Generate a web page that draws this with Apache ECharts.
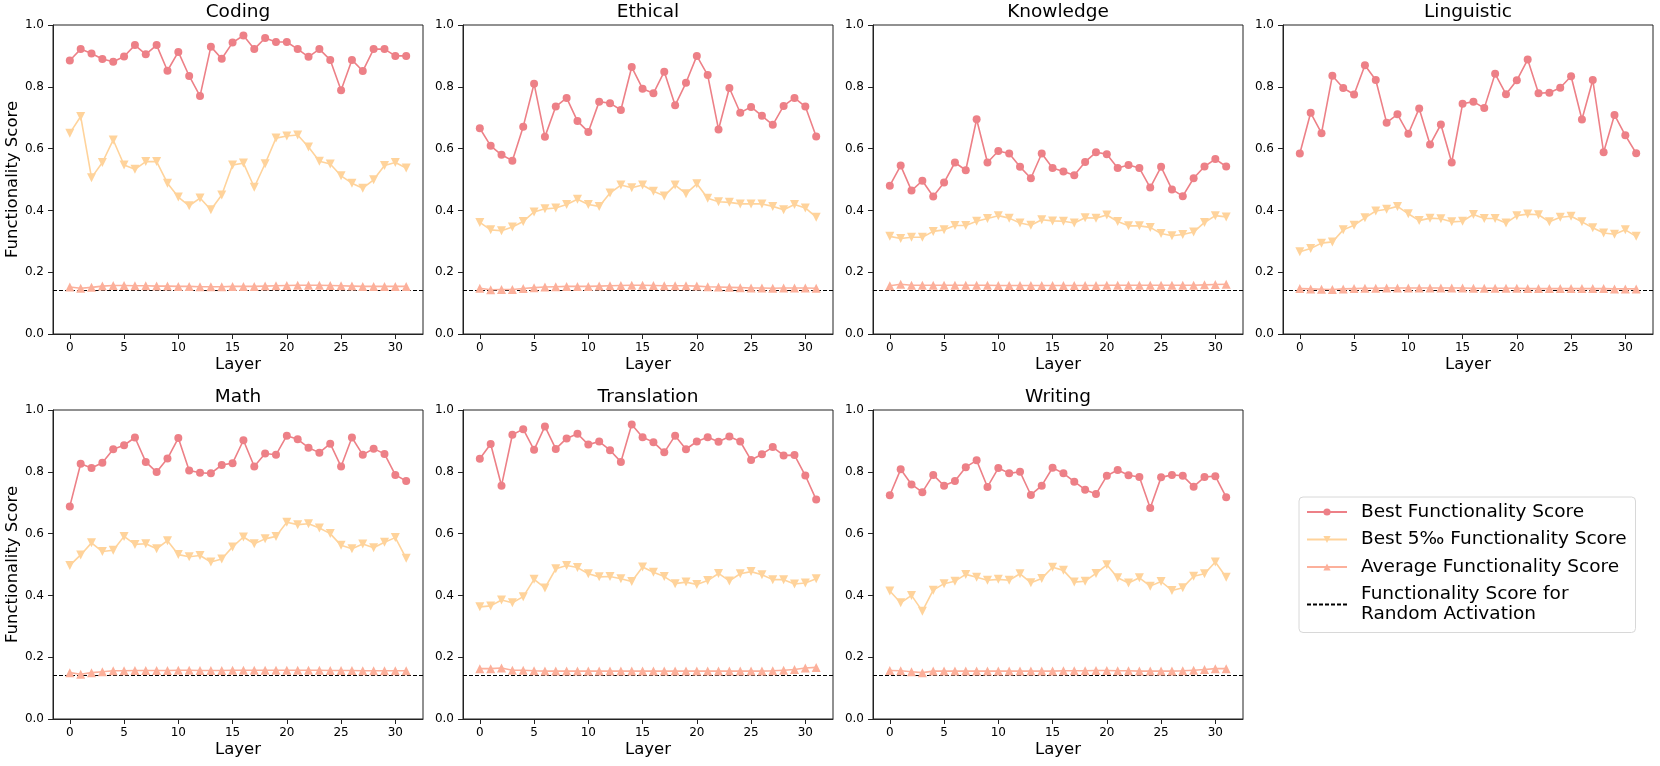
<!DOCTYPE html>
<html><head><meta charset="utf-8">
<script src="https://cdn.jsdelivr.net/npm/echarts@6/dist/echarts.min.js"></script>
<style>html,body{margin:0;padding:0;background:#fff}#c{width:1660px;height:766px}</style>
</head><body><div id="c"></div>
<script>
const categories = ['Coding','Ethical','Knowledge','Linguistic','Math','Translation','Writing'];
const layers = [0,1,2,3,4,5,6,7,8,9,10,11,12,13,14,15,16,17,18,19,20,21,22,23,24,25,26,27,28,29,30,31];
const xTickLabels = [0,5,10,15,20,25,30];
const seriesNames = ['Best Functionality Score','Best 5\u2030 Functionality Score','Average Functionality Score','Functionality Score for Random Activation'];
const randomScore = 0.143;

const bestCoding = [0.885,0.922,0.908,0.890,0.881,0.898,0.935,0.905,0.935,0.852,0.913,0.835,0.770,0.930,0.891,0.943,0.966,0.922,0.958,0.945,0.945,0.922,0.897,0.922,0.887,0.789,0.887,0.851,0.922,0.922,0.900,0.900];
const top5Coding = [0.650,0.704,0.506,0.555,0.628,0.547,0.533,0.558,0.558,0.488,0.443,0.415,0.440,0.402,0.450,0.547,0.553,0.475,0.551,0.634,0.641,0.644,0.605,0.559,0.550,0.512,0.488,0.472,0.499,0.545,0.555,0.537];
const avgCoding = [0.152,0.148,0.151,0.155,0.157,0.157,0.156,0.156,0.155,0.155,0.154,0.154,0.153,0.153,0.153,0.154,0.154,0.154,0.155,0.156,0.157,0.158,0.158,0.158,0.157,0.156,0.155,0.154,0.154,0.154,0.154,0.154];

const bestEthical = [0.666,0.609,0.580,0.561,0.671,0.810,0.638,0.736,0.764,0.689,0.654,0.752,0.747,0.725,0.864,0.794,0.779,0.849,0.740,0.813,0.900,0.838,0.662,0.796,0.716,0.735,0.706,0.677,0.738,0.764,0.736,0.639];
const top5Ethical = [0.361,0.337,0.334,0.346,0.364,0.395,0.405,0.408,0.419,0.436,0.419,0.413,0.456,0.482,0.473,0.482,0.462,0.447,0.482,0.454,0.486,0.439,0.428,0.426,0.421,0.421,0.421,0.413,0.402,0.419,0.408,0.378];
const avgEthical = [0.148,0.143,0.144,0.144,0.147,0.150,0.152,0.153,0.154,0.154,0.154,0.155,0.156,0.157,0.158,0.158,0.157,0.156,0.156,0.156,0.155,0.153,0.152,0.151,0.150,0.149,0.149,0.148,0.149,0.149,0.149,0.148];

const bestKnowledge = [0.480,0.545,0.464,0.496,0.445,0.490,0.555,0.530,0.695,0.555,0.592,0.584,0.541,0.504,0.584,0.537,0.526,0.514,0.557,0.588,0.582,0.537,0.547,0.537,0.474,0.541,0.468,0.446,0.504,0.542,0.566,0.542];
const top5Knowledge = [0.316,0.309,0.313,0.313,0.332,0.337,0.351,0.351,0.365,0.374,0.383,0.375,0.359,0.352,0.370,0.366,0.365,0.359,0.376,0.375,0.385,0.364,0.350,0.350,0.345,0.325,0.318,0.322,0.330,0.361,0.383,0.379];
const avgKnowledge = [0.156,0.161,0.158,0.158,0.158,0.158,0.158,0.158,0.158,0.158,0.157,0.157,0.157,0.157,0.157,0.157,0.157,0.157,0.157,0.157,0.158,0.158,0.158,0.158,0.158,0.158,0.158,0.158,0.158,0.159,0.160,0.161];

const bestLinguistic = [0.584,0.716,0.650,0.836,0.796,0.775,0.870,0.822,0.684,0.711,0.648,0.730,0.613,0.678,0.555,0.745,0.752,0.731,0.842,0.776,0.821,0.888,0.779,0.781,0.797,0.834,0.694,0.822,0.588,0.709,0.643,0.585];
const top5Linguistic = [0.266,0.277,0.294,0.298,0.337,0.352,0.376,0.398,0.404,0.413,0.389,0.367,0.375,0.373,0.363,0.365,0.387,0.374,0.374,0.359,0.383,0.388,0.386,0.363,0.378,0.381,0.363,0.344,0.327,0.323,0.337,0.316];
const avgLinguistic = [0.147,0.146,0.145,0.144,0.146,0.147,0.148,0.148,0.149,0.149,0.149,0.149,0.149,0.149,0.149,0.149,0.148,0.148,0.148,0.148,0.148,0.147,0.147,0.147,0.147,0.147,0.147,0.147,0.147,0.146,0.146,0.146];

const bestMath = [0.688,0.826,0.812,0.829,0.873,0.886,0.911,0.832,0.799,0.843,0.909,0.804,0.797,0.795,0.822,0.828,0.902,0.817,0.859,0.855,0.917,0.905,0.878,0.862,0.891,0.817,0.911,0.855,0.875,0.858,0.790,0.770];
const top5Math = [0.497,0.531,0.570,0.542,0.546,0.591,0.565,0.567,0.551,0.577,0.532,0.525,0.529,0.508,0.518,0.557,0.589,0.567,0.583,0.591,0.637,0.629,0.632,0.618,0.600,0.562,0.551,0.566,0.554,0.572,0.587,0.520];
const avgMath = [0.150,0.145,0.150,0.153,0.156,0.156,0.157,0.157,0.157,0.157,0.158,0.158,0.157,0.157,0.157,0.158,0.158,0.158,0.158,0.158,0.158,0.158,0.158,0.158,0.157,0.157,0.157,0.156,0.156,0.156,0.156,0.156];

const bestTranslation = [0.842,0.890,0.755,0.920,0.938,0.871,0.947,0.874,0.908,0.923,0.888,0.898,0.870,0.832,0.953,0.912,0.896,0.863,0.917,0.873,0.898,0.912,0.897,0.914,0.898,0.838,0.857,0.880,0.853,0.854,0.788,0.710];
const top5Translation = [0.363,0.366,0.385,0.376,0.396,0.452,0.424,0.486,0.497,0.490,0.470,0.460,0.461,0.454,0.445,0.492,0.475,0.461,0.438,0.443,0.435,0.448,0.471,0.447,0.470,0.477,0.467,0.451,0.451,0.437,0.440,0.454];
const avgTranslation = [0.163,0.163,0.165,0.158,0.158,0.156,0.155,0.155,0.155,0.155,0.155,0.155,0.155,0.155,0.155,0.155,0.155,0.155,0.155,0.155,0.155,0.155,0.155,0.155,0.155,0.155,0.155,0.156,0.158,0.160,0.165,0.167];

const bestWriting = [0.724,0.808,0.759,0.734,0.790,0.755,0.770,0.815,0.837,0.751,0.812,0.795,0.800,0.725,0.755,0.813,0.795,0.768,0.742,0.728,0.787,0.806,0.789,0.783,0.683,0.782,0.790,0.787,0.752,0.783,0.786,0.718];
const top5Writing = [0.414,0.376,0.400,0.349,0.417,0.438,0.446,0.468,0.459,0.449,0.452,0.449,0.470,0.441,0.455,0.491,0.481,0.443,0.446,0.471,0.499,0.457,0.440,0.457,0.430,0.445,0.416,0.425,0.462,0.470,0.508,0.459];
const avgWriting = [0.157,0.156,0.153,0.150,0.155,0.155,0.155,0.155,0.155,0.155,0.155,0.155,0.155,0.155,0.155,0.155,0.156,0.156,0.156,0.157,0.157,0.156,0.156,0.155,0.155,0.155,0.155,0.156,0.158,0.160,0.163,0.163];

const bestAll = [bestCoding,bestEthical,bestKnowledge,bestLinguistic,bestMath,bestTranslation,bestWriting];
const top5All = [top5Coding,top5Ethical,top5Knowledge,top5Linguistic,top5Math,top5Translation,top5Writing];
const avgAll = [avgCoding,avgEthical,avgKnowledge,avgLinguistic,avgMath,avgTranslation,avgWriting];

const FONT = 'DejaVu Sans';
const colors = ['#ed8087','#ffd39b','#fcb09b'];
const colLeft = [53,463,873,1283];
const rowTop = [25,410];
const gw = 370, gh = 309;

const grids = [], xAxes = [], yAxes = [], titles = [], series = [];
categories.forEach((cat, i) => {
  const r = Math.floor(i / 4), c = i % 4;
  grids.push({left: colLeft[c], top: rowTop[r], width: gw, height: gh, show: true, borderColor: '#222', borderWidth: 1, backgroundColor: 'transparent'});
  titles.push({text: cat, left: colLeft[c] + gw / 2, top: rowTop[r] - 23, textAlign: 'center', padding: 0,
    textStyle: {fontFamily: FONT, fontSize: 18.5, fontWeight: 'normal', color: '#000', lineHeight: 20}});
  xAxes.push({type: 'value', gridIndex: i, min: -1.55, max: 32.55, name: 'Layer', nameLocation: 'middle', nameGap: 22,
    nameTextStyle: {fontFamily: FONT, fontSize: 16.5, color: '#000'},
    axisLine: {show: true, onZero: false, lineStyle: {color: '#222', width: 1}},
    axisTick: {show: true, length: 5, lineStyle: {color: '#222'}, customValues: xTickLabels},
    axisLabel: {fontFamily: FONT, fontSize: 12, color: '#000', margin: 8, customValues: xTickLabels},
    splitLine: {show: false}});
  yAxes.push({type: 'value', gridIndex: i, min: 0, max: 1, interval: 0.2,
    name: c === 0 ? 'Functionality Score' : '', nameLocation: 'middle', nameGap: 31,
    nameTextStyle: {fontFamily: FONT, fontSize: 16.5, color: '#000'},
    axisLine: {show: true, onZero: false, lineStyle: {color: '#222', width: 1}},
    axisTick: {show: true, length: 5, lineStyle: {color: '#222'}},
    axisLabel: {fontFamily: FONT, fontSize: 12, color: '#000', margin: 9, formatter: v => v.toFixed(1)},
    splitLine: {show: false}});
  const mk = (arr) => layers.map((l, k) => [l, arr[k]]);
  series.push({name: seriesNames[0], type: 'line', xAxisIndex: i, yAxisIndex: i, data: mk(bestAll[i]),
    symbol: 'circle', symbolSize: 8, lineStyle: {color: colors[0], width: 1.6}, itemStyle: {color: colors[0]}, z: 3});
  series.push({name: seriesNames[1], type: 'line', xAxisIndex: i, yAxisIndex: i, data: mk(top5All[i]),
    symbol: 'triangle', symbolRotate: 180, symbolSize: 9, lineStyle: {color: colors[1], width: 1.6}, itemStyle: {color: colors[1]}, z: 4});
  series.push({name: seriesNames[2], type: 'line', xAxisIndex: i, yAxisIndex: i, data: mk(avgAll[i]),
    symbol: 'triangle', symbolSize: 9, lineStyle: {color: colors[2], width: 1.6}, itemStyle: {color: colors[2]}, z: 5});
  series.push({name: seriesNames[3], type: 'line', xAxisIndex: i, yAxisIndex: i, data: [],
    symbol: 'none', lineStyle: {color: '#000', width: 1.2, type: [4, 2]}, itemStyle: {color: '#000'}, z: 6,
    markLine: {silent: true, symbol: ['none','none'], label: {show: false},
      lineStyle: {color: '#000', width: 1.2, type: [4, 2]}, data: [{yAxis: randomScore}], animation: false}});
});

const chart = echarts.init(document.getElementById('c'), null, {renderer: 'canvas'});
chart.setOption({
  animation: false,
  backgroundColor: '#fff',
  title: titles,
  grid: grids,
  xAxis: xAxes,
  yAxis: yAxes,
  series: series,
  legend: {
    data: [seriesNames[0], seriesNames[1], seriesNames[2], {name: seriesNames[3], itemStyle: {opacity: 0}}],
    orient: 'vertical', left: 1299, top: 497,
    padding: [5, 9, 8, 7], itemGap: 7.5, itemWidth: 40, itemHeight: 9,
    borderColor: '#d8d8d8', borderWidth: 1, borderRadius: 4, backgroundColor: '#fff',
    selectedMode: false,
    formatter: n => n === seriesNames[3] ? 'Functionality Score for\nRandom Activation' : n,
    textStyle: {fontFamily: FONT, fontSize: 18.5, color: '#000', lineHeight: 20, padding: [0, 0, 0, 9]}
  }
});
</script></body></html>
